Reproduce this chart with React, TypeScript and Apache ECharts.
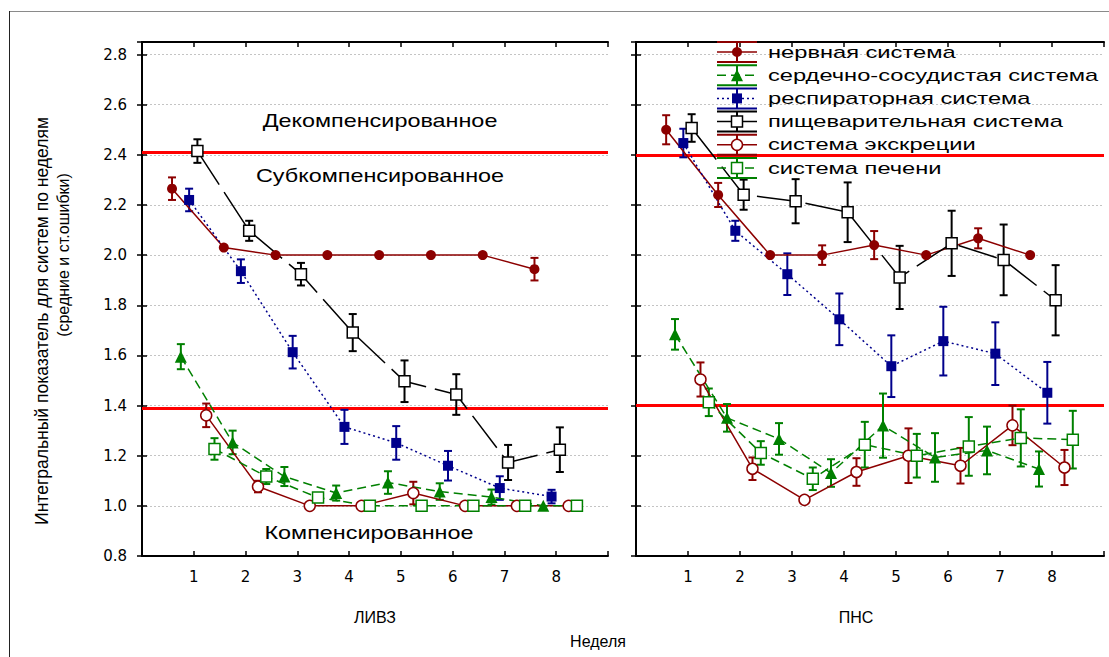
import React, { useEffect, useRef } from "react";
import * as echarts from "echarts";

const weeks = [1, 2, 3, 4, 5, 6, 7, 8];
const systemNames = [
  "нервная система",
  "сердечно-сосудистая система",
  "респираторная система",
  "пищеварительная система",
  "система экскреции",
  "система печени",
];
const offsets = [-0.42, -0.25, -0.09, 0.07, 0.24, 0.4];

// ЛИВЗ panel
const livzNervMean = [2.265, 2.03, 2.0, 2.0, 2.0, 2.0, 2.0, 1.944];
const livzNervErr = [0.045, 0, 0, 0, 0, 0, 0, 0.045];
const livzCardioMean = [1.595, 1.253, 1.117, 1.051, 1.093, 1.057, 1.035, 1.0];
const livzCardioErr = [0.05, 0.047, 0.038, 0.03, 0.045, 0.033, 0.03, 0.0];
const livzRespMean = [2.22, 1.936, 1.613, 1.315, 1.251, 1.16, 1.071, 1.037];
const livzRespErr = [0.045, 0.047, 0.065, 0.068, 0.067, 0.059, 0.047, 0.027];
const livzDigMean = [2.415, 2.097, 1.924, 1.691, 1.497, 1.444, 1.173, 1.224];
const livzDigErr = [0.047, 0.04, 0.045, 0.074, 0.083, 0.081, 0.07, 0.089];
const livzExcrMean = [1.361, 1.077, 1.0, 1.0, 1.051, 1.0, 1.0, 1.0];
const livzExcrErr = [0.047, 0.023, 0, 0, 0.045, 0, 0, 0];
const livzLiverMean = [1.227, 1.117, 1.033, 1.0, 1.0, 1.0, 1.0, 1.0];
const livzLiverErr = [0.043, 0.03, 0, 0, 0, 0, 0, 0];

// ПНС panel
const pnsNervMean = [2.5, 2.24, 2.0, 2.0, 2.04, 2.0, 2.067, 2.0];
const pnsNervErr = [0.058, 0.048, 0, 0.039, 0.056, 0, 0.04, 0];
const pnsCardioMean = [1.684, 1.351, 1.267, 1.131, 1.32, 1.193, 1.221, 1.147];
const pnsCardioErr = [0.061, 0.055, 0.063, 0.055, 0.128, 0.097, 0.095, 0.07];
const pnsRespMean = [2.447, 2.097, 1.924, 1.744, 1.557, 1.657, 1.607, 1.451];
const pnsRespErr = [0.057, 0.04, 0.083, 0.103, 0.123, 0.137, 0.125, 0.123];
const pnsDigMean = [2.507, 2.241, 2.215, 2.171, 1.911, 2.047, 1.981, 1.82];
const pnsDigErr = [0.055, 0.06, 0.088, 0.119, 0.126, 0.13, 0.141, 0.14];
const pnsExcrMean = [1.504, 1.148, 1.024, 1.135, 1.2, 1.16, 1.321, 1.153];
const pnsExcrErr = [0.068, 0.045, 0.01, 0.055, 0.109, 0.071, 0.079, 0.07];
const pnsLiverMean = [1.413, 1.211, 1.108, 1.244, 1.2, 1.237, 1.271, 1.264];
const pnsLiverErr = [0.055, 0.047, 0.045, 0.091, 0.087, 0.117, 0.114, 0.115];

// zone thresholds
const livzThresholds = [2.41, 1.385];
const pnsThresholds = [2.4, 1.397];

const zoneLabels = ["Декомпенсированное", "Субкомпенсированное", "Компенсированное"];
const panelNames = ["ЛИВЗ", "ПНС"];
const xTitle = "Неделя";
const yTitle1 = "Интегральный показатель для систем по неделям";
const yTitle2 = "(средние и ст.ошибки)";

const DRED = "#8c0000";
const GREEN = "#008000";
const NAVY = "#00008c";
const BLACK = "#000000";

type Style = {
  color: string;
  lineType: any;
  symbol: string;
  size: number;
  open: boolean;
};
const styles: Style[] = [
  { color: DRED, lineType: "solid", symbol: "circle", size: 10, open: false },
  { color: GREEN, lineType: [9, 5], symbol: "triangle", size: 12, open: false },
  { color: NAVY, lineType: [2, 3], symbol: "rect", size: 10, open: false },
  { color: BLACK, lineType: [40, 9], symbol: "rect", size: 11, open: true },
  { color: DRED, lineType: "solid", symbol: "circle", size: 11, open: true },
  { color: GREEN, lineType: [9, 5], symbol: "rect", size: 11, open: true },
];

const FONT = "'Liberation Sans', Arial, sans-serif";

function lineSeries(gi: number, si: number, means: number[], thresholds?: number[]) {
  const st = styles[si];
  const s: any = {
    type: "line",
    name: systemNames[si],
    xAxisIndex: gi * 2,
    yAxisIndex: gi * 2,
    data: means.map((m, i) => [weeks[i] + offsets[si], m]),
    symbol: st.symbol,
    symbolSize: st.size,
    showSymbol: true,
    lineStyle: { color: st.color, width: 1.5, type: st.lineType },
    itemStyle: st.open
      ? { color: "#ffffff", borderColor: st.color, borderWidth: 1.5 }
      : { color: st.color, borderColor: st.color, borderWidth: 0 },
    z: 5,
    silent: true,
  };
  if (thresholds) {
    s.markLine = {
      silent: true,
      symbol: "none",
      label: { show: false },
      lineStyle: { color: "#ff0000", width: 3, type: "solid" },
      data: thresholds.map((t) => ({ yAxis: t })),
      z: 2,
    };
  }
  return s;
}

function errSeries(gi: number, si: number, means: number[], errs: number[]) {
  const color = styles[si].color;
  const data = means
    .map((m, i) => [weeks[i] + offsets[si], m - errs[i], m + errs[i]])
    .filter((d, i) => errs[i] > 0);
  return {
    type: "custom",
    xAxisIndex: gi * 2,
    yAxisIndex: gi * 2,
    silent: true,
    z: 4,
    encode: { x: 0, y: [1, 2] },
    data,
    renderItem: (params: any, api: any) => {
      const x = api.value(0);
      const p1 = api.coord([x, api.value(1)]);
      const p2 = api.coord([x, api.value(2)]);
      const hw = 4;
      const ls = { stroke: color, lineWidth: 2 };
      return {
        type: "group",
        children: [
          { type: "line", shape: { x1: p1[0], y1: p1[1], x2: p2[0], y2: p2[1] }, style: ls },
          { type: "line", shape: { x1: p1[0] - hw, y1: p1[1], x2: p1[0] + hw, y2: p1[1] }, style: ls },
          { type: "line", shape: { x1: p2[0] - hw, y1: p2[1], x2: p2[0] + hw, y2: p2[1] }, style: ls },
        ],
      };
    },
  };
}

function legendGraphics() {
  const items: any[] = [];
  const x0 = 717;
  const x1 = 757;
  const cx = 737;
  const y0 = 52;
  const step = 23.2;
  styles.forEach((st, i) => {
    const cy = y0 + i * step;
    const ls = { stroke: st.color, lineWidth: 2 };
    items.push({ type: "line", shape: { x1: x0, y1: cy - 10, x2: x1, y2: cy - 10 }, style: ls, z: 10 });
    items.push({ type: "line", shape: { x1: x0, y1: cy + 10, x2: x1, y2: cy + 10 }, style: ls, z: 10 });
    items.push({ type: "line", shape: { x1: cx, y1: cy - 10, x2: cx, y2: cy + 10 }, style: ls, z: 10 });
    items.push({
      type: "line",
      shape: { x1: x0, y1: cy, x2: x1, y2: cy },
      style: { stroke: st.color, lineWidth: 1.5, lineDash: Array.isArray(st.lineType) ? st.lineType : null },
      z: 10,
    });
    const fill = st.open ? "#ffffff" : st.color;
    const sw = st.open ? 1.5 : 0;
    if (st.symbol === "circle") {
      items.push({ type: "circle", shape: { cx, cy, r: st.size / 2 }, style: { fill, stroke: st.color, lineWidth: sw }, z: 11 });
    } else if (st.symbol === "rect") {
      const h = st.size / 2;
      items.push({ type: "rect", shape: { x: cx - h, y: cy - h, width: st.size, height: st.size }, style: { fill, stroke: st.color, lineWidth: sw }, z: 11 });
    } else {
      const h = st.size / 2;
      items.push({
        type: "polygon",
        shape: { points: [[cx, cy - h], [cx + h, cy + h], [cx - h, cy + h]] },
        style: { fill, stroke: st.color, lineWidth: sw },
        z: 11,
      });
    }
    items.push({
      type: "text",
      x: 768,
      y: cy,
      scaleX: 1.48,
      style: { text: systemNames[i], fill: "#000", font: `16px ${FONT}`, textAlign: "left", textVerticalAlign: "middle" },
      z: 11,
    });
  });
  return items;
}

function textG(text: string, x: number, y: number, size: number, scaleX = 1, rotation = 0, family = FONT) {
  return {
    type: "text",
    x,
    y,
    scaleX,
    rotation,
    style: { text, fill: "#000", font: `${size}px ${family}`, textAlign: "center", textVerticalAlign: "middle" },
    z: 12,
  };
}

export default function App() {
  const ref = useRef<HTMLDivElement>(null);
  useEffect(() => {
    if (!ref.current) return;
    const chart = echarts.init(ref.current, null, { renderer: "svg" });

    const grids = [
      { left: 142, top: 42, width: 466, height: 514 },
      { left: 636, top: 42, width: 468, height: 514 },
    ];
    const axisLine = { show: true, lineStyle: { color: "#000", width: 2 } };
    const tick = { show: true, inside: true, length: 5, lineStyle: { color: "#000", width: 1.5 } };
    const xAxes: any[] = [];
    const yAxes: any[] = [];
    grids.forEach((g, gi) => {
      xAxes.push({
        type: "value",
        gridIndex: gi,
        min: 0,
        max: 9,
        interval: 1,
        position: "bottom",
        axisLine,
        axisTick: tick,
        splitLine: { show: false },
        axisLabel: {
          show: true,
          margin: 13,
          color: "#000",
          fontSize: 15,
          fontFamily: "'DejaVu Sans', sans-serif",
          formatter: (v: number) => (v >= 1 && v <= 8 ? String(v) : ""),
        },
      });
      xAxes.push({
        type: "value",
        gridIndex: gi,
        min: 0,
        max: 9,
        interval: 1,
        position: "top",
        axisLine,
        axisTick: tick,
        splitLine: { show: false },
        axisLabel: { show: false },
      });
      yAxes.push({
        type: "value",
        gridIndex: gi,
        min: 0.8,
        max: 2.85,
        interval: 0.2,
        position: "left",
        axisLine,
        axisTick: tick,
        splitLine: { show: true, lineStyle: { color: "#c4c4c4", type: [2, 2], width: 1 } },
        axisLabel: {
          show: gi === 0,
          showMaxLabel: false,
          margin: 15,
          color: "#000",
          fontSize: 15,
          fontFamily: "'DejaVu Sans', sans-serif",
          formatter: (v: number) => v.toFixed(1),
        },
      });
      yAxes.push({
        type: "value",
        gridIndex: gi,
        min: 0.8,
        max: 2.85,
        interval: 0.2,
        position: "right",
        axisLine,
        axisTick: tick,
        splitLine: { show: false },
        axisLabel: { show: false },
      });
    });

    const livz = [
      [livzNervMean, livzNervErr],
      [livzCardioMean, livzCardioErr],
      [livzRespMean, livzRespErr],
      [livzDigMean, livzDigErr],
      [livzExcrMean, livzExcrErr],
      [livzLiverMean, livzLiverErr],
    ];
    const pns = [
      [pnsNervMean, pnsNervErr],
      [pnsCardioMean, pnsCardioErr],
      [pnsRespMean, pnsRespErr],
      [pnsDigMean, pnsDigErr],
      [pnsExcrMean, pnsExcrErr],
      [pnsLiverMean, pnsLiverErr],
    ];
    const series: any[] = [];
    [livz, pns].forEach((panel, gi) => {
      panel.forEach(([m, e], si) => {
        series.push(errSeries(gi, si, m, e));
        series.push(lineSeries(gi, si, m, si === 0 ? (gi === 0 ? livzThresholds : pnsThresholds) : undefined));
      });
    });

    const graphic: any[] = [
      { type: "line", shape: { x1: 9, y1: 11.5, x2: 1109, y2: 11.5 }, style: { stroke: "#8a8a8a", lineWidth: 1 } },
      { type: "line", shape: { x1: 9.5, y1: 11, x2: 9.5, y2: 657 }, style: { stroke: "#222", lineWidth: 1 } },
      textG(zoneLabels[0], 380, 121, 18, 1.3),
      textG(zoneLabels[1], 380, 176, 18, 1.3),
      textG(zoneLabels[2], 369, 533, 18, 1.3),
      textG(panelNames[0], 375, 617, 16),
      textG(panelNames[1], 856, 617, 16),
      textG(xTitle, 598, 641, 16),
      textG(yTitle1, 42, 321, 17.5, 1, Math.PI / 2),
      textG(yTitle2, 63, 255, 16, 1, Math.PI / 2),
      ...legendGraphics(),
    ];

    chart.setOption({
      animation: false,
      backgroundColor: "#ffffff",
      grid: grids,
      xAxis: xAxes,
      yAxis: yAxes,
      series,
      graphic,
    });
    return () => chart.dispose();
  }, []);
  return <div ref={ref} style={{ position: "absolute", left: 0, top: 0, width: 1109, height: 657 }} />;
}
